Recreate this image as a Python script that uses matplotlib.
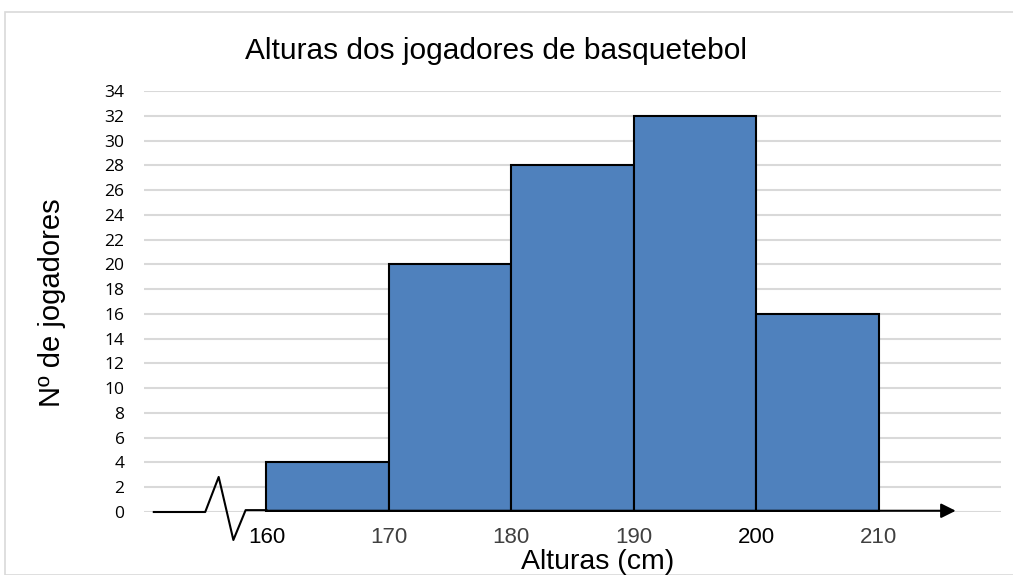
import matplotlib
matplotlib.use("Agg")
import matplotlib.pyplot as plt
from matplotlib.patches import Rectangle

bin_edges = [160, 170, 180, 190, 200, 210]
counts = [4, 20, 28, 32, 16]
x_tick_labels = ["160", "170", "180", "190", "200", "210"]
x_tick_colors = ["#000000", "#404040", "#404040", "#404040", "#000000", "#404040"]
y_ticks = list(range(0, 35, 2))
title = "Alturas dos jogadores de basquetebol"
xlabel = "Alturas (cm)"
ylabel = "Nº de jogadores"

W, H = 1013, 575
fig = plt.figure(figsize=(W / 100, H / 100), dpi=100)
ax = fig.add_axes([144 / W, 1 - 512 / H, (1001 - 144) / W, (512 - 91) / H])

# chart border
fig.patches.append(Rectangle((5 / W, 0), 1.0, 1 - 12 / H, transform=fig.transFigure,
                             fill=False, edgecolor="#d9d9d9", linewidth=1.2))

ax.set_xlim(150, 220)
ax.set_ylim(0, 34)
ax.set_yticks(y_ticks)
ax.yaxis.grid(True, color="#d9d9d9", linewidth=1.5)
ax.set_axisbelow(True)
for s in ax.spines.values():
    s.set_visible(False)

widths = [bin_edges[i + 1] - bin_edges[i] for i in range(len(counts))]
ax.bar(bin_edges[:-1], counts, width=widths, align="edge", color="#4f81bd",
       edgecolor="black", linewidth=1.5, zorder=3)

# axis break line
ax.plot([150.8, 155.0, 156.1, 157.3, 158.3, 160.0], [0, 0, 2.83, -2.26, 0.15, 0.15],
        color="black", linewidth=1.5, clip_on=False, zorder=4)
# arrow
ax.annotate("", xy=(216.3, 0.1), xytext=(160, 0.1),
            arrowprops=dict(arrowstyle="-|>", color="black", lw=1.5, mutation_scale=22,
                            shrinkA=0, shrinkB=0), annotation_clip=False, zorder=4)

ax.set_xticks(bin_edges)
ax.set_xticklabels(x_tick_labels, fontsize=16, family="Liberation Sans")
for lab, c in zip(ax.get_xticklabels(), x_tick_colors):
    lab.set_color(c)
ax.tick_params(axis="x", length=0, pad=11)
ax.tick_params(axis="y", length=0, pad=14, labelsize=12.5)
for lab in ax.get_yticklabels():
    lab.set_family("Open Sans")

fig.text(496 / W, 1 - 51 / H, title, ha="center", va="center", fontsize=21.5,
         family="Liberation Sans")
fig.text(598 / W, 1 - 562 / H, xlabel, ha="center", va="center", fontsize=20.5,
         family="Liberation Sans")
fig.text(52 / W, 1 - 303 / H, ylabel, ha="center", va="center", fontsize=21,
         rotation=90, family="Liberation Sans")

fig.savefig("out.png", dpi=100)
